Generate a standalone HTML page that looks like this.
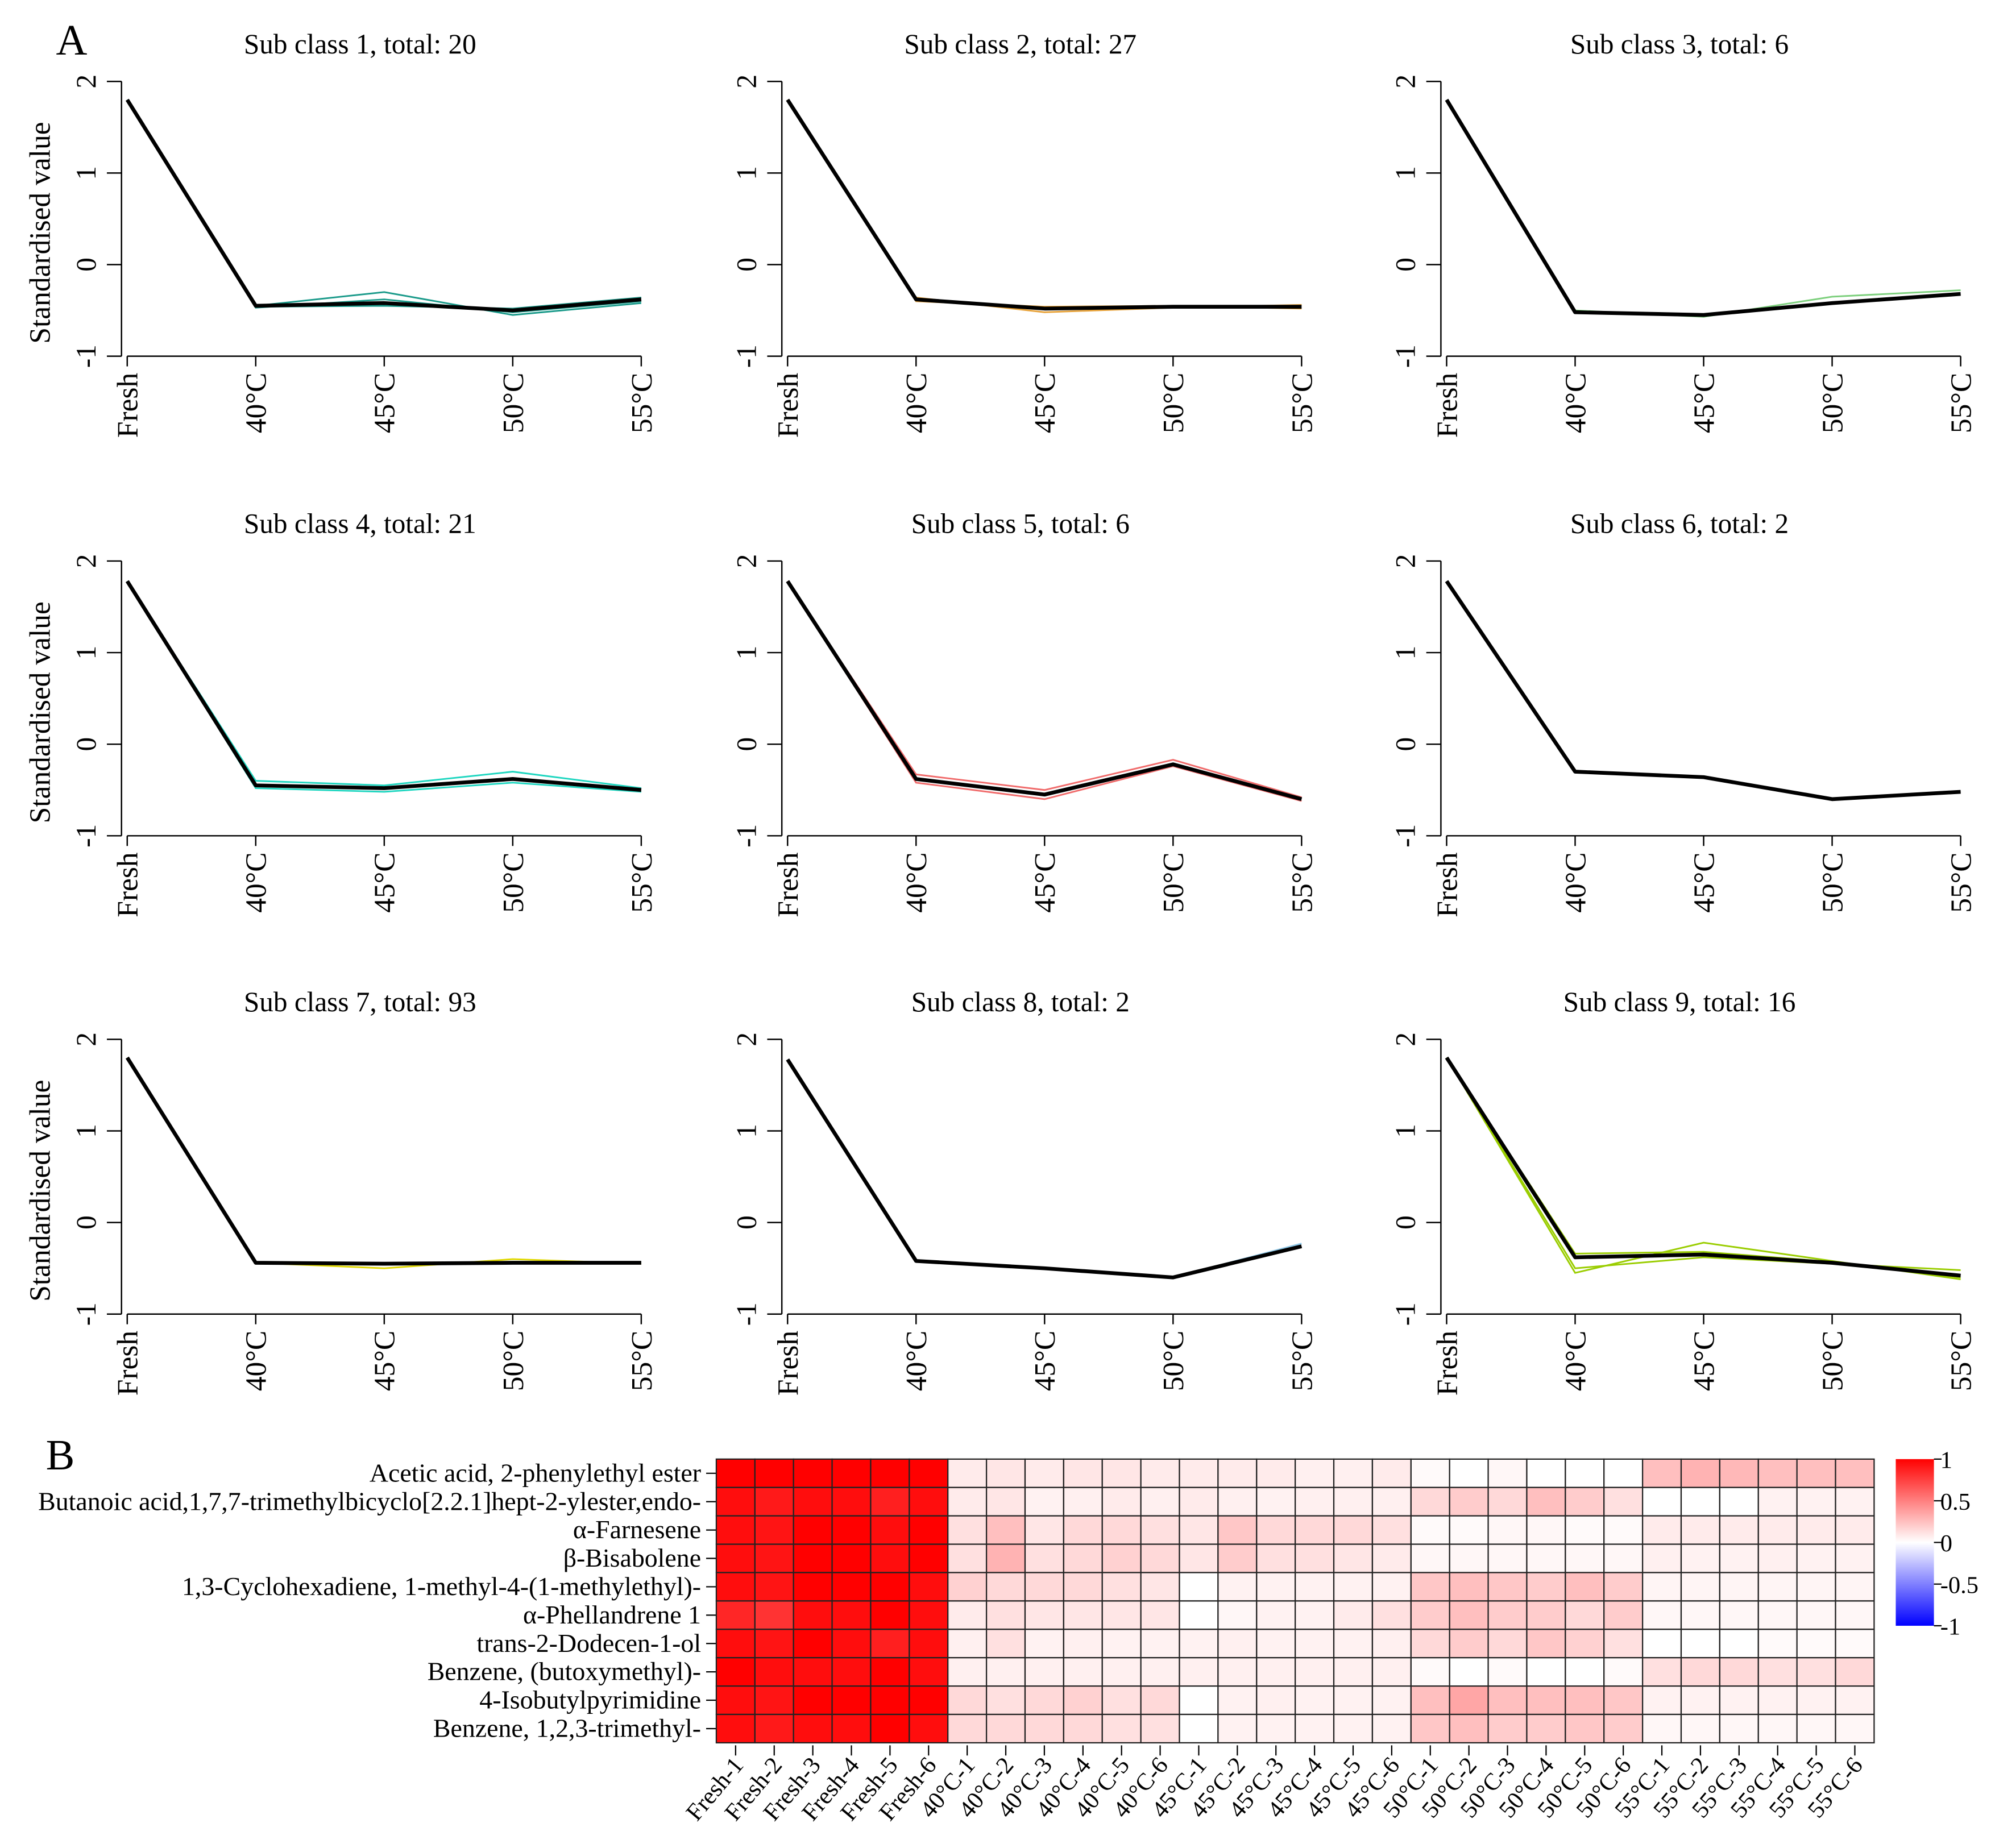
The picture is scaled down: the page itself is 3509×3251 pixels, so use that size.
<!DOCTYPE html>
<html><head><meta charset="utf-8"><style>
html,body{margin:0;padding:0;background:#fff;}
svg{display:block;font-family:"Liberation Serif",serif;}
</style></head><body>
<svg id="fig" width="3509" height="3251" viewBox="0 0 1568 1452.7" xmlns="http://www.w3.org/2000/svg">
<rect width="1568" height="1453" fill="#fff"/>
<text x="44" y="43" font-size="34">A</text>
<text x="36" y="1155" font-size="34">B</text>
<g id="lines"></g>
<g id="heat"></g>
</svg>
<script>
// ---- Line chart data ----
const xCats = ["Fresh","40°C","45°C","50°C","55°C"];
const yTicks = [-1,0,1,2];
const panelTitles = ["Sub class 1, total: 20","Sub class 2, total: 27","Sub class 3, total: 6","Sub class 4, total: 21","Sub class 5, total: 6","Sub class 6, total: 2","Sub class 7, total: 93","Sub class 8, total: 2","Sub class 9, total: 16"];
const panelColors = ["#1a9a8a","#e8a33a","#7ccf7c","#1fd6c0","#f06b6b","#999999","#e0d800","#8fc8e8","#9acd00"];
const meanSeries = [
 [1.8,-0.45,-0.42,-0.5,-0.38],
 [1.8,-0.38,-0.48,-0.46,-0.46],
 [1.8,-0.52,-0.55,-0.42,-0.32],
 [1.78,-0.45,-0.48,-0.38,-0.5],
 [1.78,-0.38,-0.55,-0.22,-0.6],
 [1.78,-0.3,-0.36,-0.6,-0.52],
 [1.8,-0.44,-0.45,-0.44,-0.44],
 [1.78,-0.42,-0.5,-0.6,-0.26],
 [1.8,-0.38,-0.35,-0.44,-0.58]
];
const memberSeries = [
 [[1.8,-0.45,-0.3,-0.55,-0.42],[1.8,-0.47,-0.38,-0.52,-0.4],[1.8,-0.46,-0.45,-0.48,-0.36]],
 [[1.8,-0.36,-0.52,-0.47,-0.44],[1.8,-0.4,-0.46,-0.45,-0.48]],
 [[1.8,-0.5,-0.57,-0.35,-0.28]],
 [[1.78,-0.4,-0.45,-0.3,-0.48],[1.78,-0.48,-0.52,-0.42,-0.52]],
 [[1.78,-0.33,-0.5,-0.17,-0.58],[1.78,-0.42,-0.6,-0.24,-0.62]],
 [[1.78,-0.3,-0.36,-0.6,-0.52]],
 [[1.8,-0.44,-0.5,-0.4,-0.45]],
 [[1.78,-0.42,-0.5,-0.6,-0.23]],
 [[1.8,-0.55,-0.22,-0.42,-0.62],[1.8,-0.5,-0.38,-0.45,-0.52],[1.8,-0.34,-0.32,-0.43,-0.6]]
];
// ---- Heatmap data ----
const rowLabels = ["Acetic acid, 2-phenylethyl ester","Butanoic acid,1,7,7-trimethylbicyclo[2.2.1]hept-2-ylester,endo-","α-Farnesene","β-Bisabolene","1,3-Cyclohexadiene, 1-methyl-4-(1-methylethyl)-","α-Phellandrene 1","trans-2-Dodecen-1-ol","Benzene, (butoxymethyl)-","4-Isobutylpyrimidine","Benzene, 1,2,3-trimethyl-"];
const colLabels = ["Fresh-1","Fresh-2","Fresh-3","Fresh-4","Fresh-5","Fresh-6","40°C-1","40°C-2","40°C-3","40°C-4","40°C-5","40°C-6","45°C-1","45°C-2","45°C-3","45°C-4","45°C-5","45°C-6","50°C-1","50°C-2","50°C-3","50°C-4","50°C-5","50°C-6","55°C-1","55°C-2","55°C-3","55°C-4","55°C-5","55°C-6"];
const heatValues = [
 [1,1,1,1,1,1, .08,.1,.08,.1,.1,.08, .08,.08,.08,.06,.06,.08, .02,0,.03,0,0,0, .25,.3,.28,.25,.25,.25],
 [.95,.9,.95,.95,.88,.95, .08,.1,.05,.06,.08,.06, .08,.06,.05,.06,.06,.06, .15,.2,.15,.25,.2,.12, 0,0,0,.05,.05,.05],
 [.95,.92,1,1,.95,1, .12,.25,.1,.15,.15,.12, .1,.22,.15,.15,.15,.12, .02,.02,.03,.03,.02,.02, .08,.08,.08,.08,.08,.08],
 [.95,.92,1,1,.95,1, .12,.3,.12,.15,.18,.15, .1,.2,.12,.12,.1,.08, .03,.03,.03,.03,.03,.03, .06,.05,.05,.06,.05,.05],
 [.95,.92,1,1,1,.95, .18,.15,.15,.15,.12,.1, 0,.05,.05,.05,.05,.05, .22,.25,.22,.2,.25,.2, .04,.04,.04,.04,.04,.04],
 [.85,.8,.95,.95,1,.95, .08,.12,.1,.1,.1,.1, 0,.03,.05,.05,.08,.12, .2,.25,.2,.2,.15,.2, .03,.03,.03,.03,.03,.03],
 [.95,.92,1,.95,.88,.95, .06,.12,.05,.06,.05,.05, .05,.06,.05,.05,.05,.06, .15,.2,.15,.22,.18,.12, 0,0,0,.02,.02,.02],
 [1,.95,.95,.95,1,.95, .06,.06,.06,.06,.06,.06, .06,.06,.06,.06,.06,.06, .02,0,.02,0,0,.02, .12,.15,.15,.12,.12,.15],
 [.95,.92,1,1,1,1, .15,.12,.15,.18,.12,.15, 0,.05,.06,.05,.05,.05, .25,.35,.25,.25,.25,.22, .05,.05,.05,.05,.05,.05],
 [.95,.9,.95,.95,1,.95, .15,.15,.15,.15,.12,.12, 0,.05,.05,.05,.05,.05, .22,.25,.2,.2,.22,.2, .03,.03,.03,.03,.03,.03]
];
const cbTicks = [1,0.5,0,-0.5,-1];

const NS="http://www.w3.org/2000/svg";
function mk(tag,attrs,parent){const e=document.createElementNS(NS,tag);for(const k in attrs)e.setAttribute(k,attrs[k]);parent.appendChild(e);return e;}

const LG=document.getElementById('lines');
const colOff=[0,519,1037], rowOff=[0,377,753];
for(let p=0;p<9;p++){
  const ox=colOff[p%3], oy=rowOff[Math.floor(p/3)];
  const g=mk('g',{},LG);
  
  
  const xs=i=>ox+100+i*(404/(xCats.length-1));
  const ys=v=>oy+208-v*72;
  const t=mk('text',{x:ox+283,y:oy+42,'font-size':22,'text-anchor':'middle'},g);
  t.textContent=panelTitles[p];
  
  
  const ya=mk('line',{x1:ox+95.5,x2:ox+95.5,y1:ys(2),y2:ys(-1),stroke:'#000','stroke-width':1.1},g);
  
  
  yTicks.forEach(v=>{
    mk('line',{x1:ox+84,x2:ox+95.5,y1:ys(v),y2:ys(v),stroke:'#000','stroke-width':1.1},g);
    const tl=mk('text',{x:0,y:0,'font-size':22,'text-anchor':'middle',transform:`translate(${ox+75},${ys(v)}) rotate(-90)`},g);
    tl.textContent=v;
    
    
  });
  if(p%3===0){
    const yt=mk('text',{x:0,y:0,'font-size':23,'text-anchor':'middle',transform:`translate(${ox+39},${oy+183}) rotate(-90)`},g);
    yt.textContent='Standardised value';
    
    
  }
  const xa=mk('line',{x1:xs(0),x2:xs(4),y1:ys(-1),y2:ys(-1),stroke:'#000','stroke-width':1.1},g);
  
  
  xCats.forEach((c,i)=>{
    mk('line',{x1:xs(i),x2:xs(i),y1:ys(-1),y2:ys(-1)+8,stroke:'#000','stroke-width':1.1},g);
    const tl=mk('text',{x:0,y:0,'font-size':23,'text-anchor':'end',transform:`translate(${xs(i)+8},${ys(-1)+13}) rotate(-90)`},g);
    tl.textContent=c;
    
    
  });
  memberSeries[p].forEach(s=>{
    const pl=mk('polyline',{points:s.map((v,i)=>xs(i)+','+ys(v)).join(' '),fill:'none',stroke:panelColors[p],'stroke-width':1.3},g);
    
    
  });
  const ml=mk('polyline',{points:meanSeries[p].map((v,i)=>xs(i)+','+ys(v)).join(' '),fill:'none',stroke:'#000','stroke-width':3,'stroke-linejoin':'round'},g);
  
  
}

const HG=document.getElementById('heat');
const hx0=563,hx1=1473,hy0=1147,hy1=1370;
const cw=(hx1-hx0)/colLabels.length, rh=(hy1-hy0)/rowLabels.length;
function col(v){
  if(v>=0){const c=Math.round(255*(1-Math.min(v,1)));return `rgb(255,${c},${c})`;}
  const c=Math.round(255*(1+Math.max(v,-1)));return `rgb(${c},${c},255)`;
}
rowLabels.forEach((lab,r)=>{
  const cy=hy0+(r+0.5)*rh;
  const t=mk('text',{x:551,y:cy+6.5,'font-size':20.5,'text-anchor':'end'},HG);
  t.textContent=lab;
  
  
  mk('line',{x1:555,x2:hx0,y1:cy,y2:cy,stroke:'#000','stroke-width':1},HG);
  heatValues[r].forEach((v,c)=>{
    const rc=mk('rect',{x:hx0+c*cw,y:hy0+r*rh,width:cw,height:rh,fill:col(v),stroke:'#222','stroke-width':1},HG);
    
    
  });
});
colLabels.forEach((lab,c)=>{
  const cx=hx0+(c+0.5)*cw;
  mk('line',{x1:cx,x2:cx,y1:hy1+2,y2:hy1+10,stroke:'#000','stroke-width':1},HG);
  const t=mk('text',{x:0,y:0,'font-size':19,'text-anchor':'end',transform:`translate(${cx+7},${hy1+18}) rotate(-50)`},HG);
  t.textContent=lab;
  
  
});
const defs=mk('defs',{},HG);
const gr=mk('linearGradient',{id:'cb',x1:0,y1:0,x2:0,y2:1},defs);
mk('stop',{offset:'0','stop-color':'#ff0000'},gr);
mk('stop',{offset:'0.5','stop-color':'#ffffff'},gr);
mk('stop',{offset:'1','stop-color':'#0000ff'},gr);
const cbY0=1147,cbY1=1278;
const cb=mk('rect',{x:1490,y:cbY0,width:30,height:cbY1-cbY0,fill:'url(#cb)'},HG);


cbTicks.forEach(v=>{
  const y=cbY0+(1-v)/2*(cbY1-cbY0);
  mk('line',{x1:1520,x2:1526,y1:y,y2:y,stroke:'#000','stroke-width':1},HG);
  const t=mk('text',{x:1525,y:y+7,'font-size':19},HG);
  t.textContent=v;
  
  
});
</script>
</body></html>
